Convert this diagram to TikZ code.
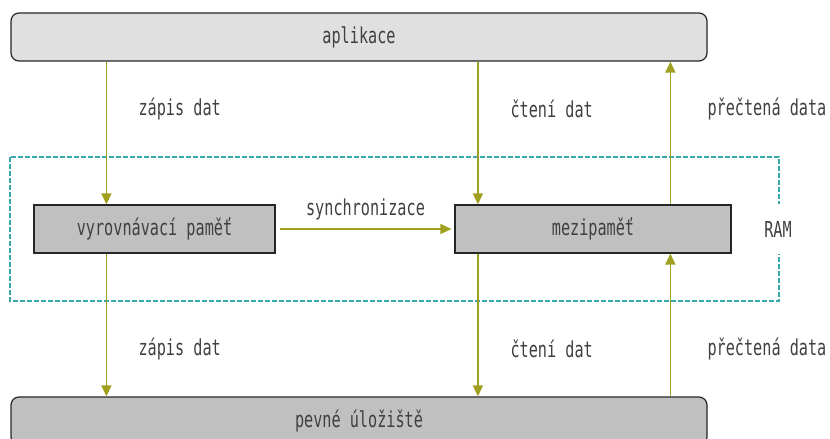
\documentclass[tikz,border=0pt]{standalone}
\usepackage{fontspec}
\setmainfont[FakeStretch=0.69]{DejaVu Sans Mono}
\usetikzlibrary{arrows.meta,positioning}

\definecolor{olive line}{HTML}{A0A020}
\definecolor{ram line}{HTML}{3AA8A8}
\definecolor{app fill}{HTML}{E0E0E0}
\definecolor{mem fill}{HTML}{C0C0C0}

\begin{document}
\begin{tikzpicture}[x=1pt, y=-1pt, >={Triangle[width=10pt,length=11pt]},
                    font=\fontsize{22}{26}\selectfont, text=black!75]
	    \tikzstyle{layer}=[draw=black!85, line width=1.2pt, rounded corners=8pt, minimum height=48pt, minimum width=696pt]
	    \tikzstyle{memory}=[draw=black!85, line width=1.2pt, fill=mem fill, minimum height=48pt]
	    \tikzstyle{flow}=[draw=olive line, line width=1.6pt]
	    
	    \useasboundingbox (0,0) rectangle (830,439);
	    
	    \draw[ram line, line width=1.3pt, dash pattern=on 5pt off 2pt] (10,157) rectangle (779,301);
	    
	    \node[layer, fill=app fill] (aplikace) at (359,37) {aplikace};
	    \node[memory, minimum width=241pt] (vyrovnavaci) at (154.5,229) {vyrovnávací paměť};
	    \node[memory, minimum width=276pt] (mezipamet) at (593,229) {mezipaměť};
	    \node[layer, fill=mem fill] (uloziste) at (359,421) {pevné úložiště};
	    \node[fill=white, minimum height=50pt, inner xsep=2pt] (ram) at (778,229) {RAM};
	    
	    \coordinate (zapis) at ([xshift=73pt]vyrovnavaci.north west);
	    \coordinate (cteni) at ([xshift=23.5pt]mezipamet.north west);
	    \coordinate (precteno) at ([xshift=216pt]mezipamet.north west);
	    
	    \path[->, every edge/.style={flow}] 
	    (aplikace.south -| zapis)		edge node [pos=0.33, right, xshift=28pt] {zápis dat} (zapis)
	    (vyrovnavaci.south -| zapis)	edge node [pos=0.67, right, xshift=28pt] {zápis dat} (uloziste.north -| zapis)
	    
	    (aplikace.south -| cteni)		edge node [pos=0.33, right, xshift=28.5pt] {čtení dat} (cteni)
	    (mezipamet.south -| cteni)		edge node [pos=0.67, right, xshift=28.5pt] {čtení dat} (uloziste.north -| cteni)
	    
	    (precteno)						edge node [pos=0.67, right, xshift=33pt] {přečtená data} (aplikace.south -| precteno)
	    (uloziste.north -| precteno)	edge node [pos=0.33, right, xshift=33pt] {přečtená data} (mezipamet.south -| precteno)
	    
	    ([xshift=4pt]vyrovnavaci.east)	edge node [above, yshift=5pt] {synchronizace} ([xshift=-3pt]mezipamet.west)
	    ;
    
\end{tikzpicture}
\end{document}
